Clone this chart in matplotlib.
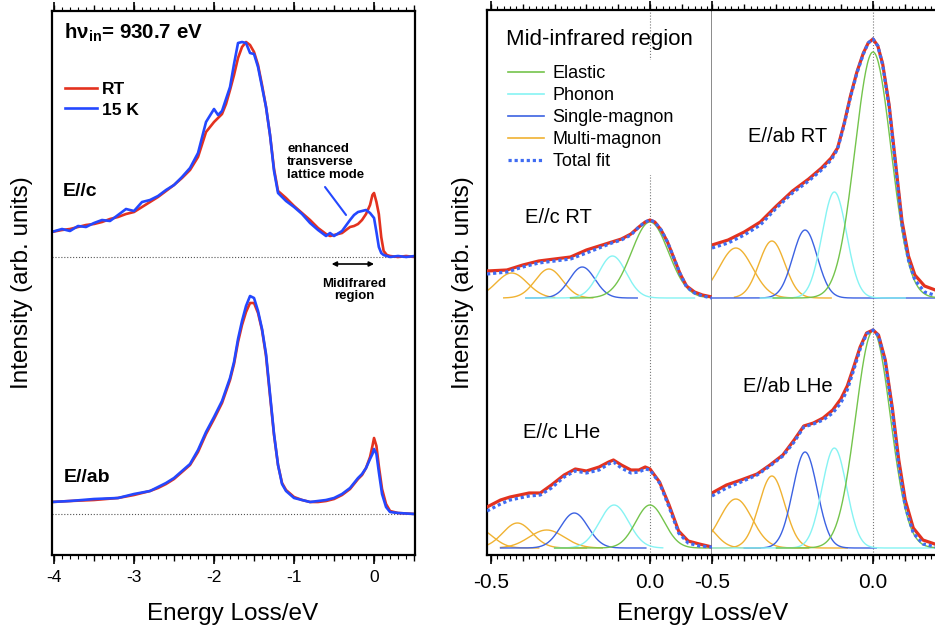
import numpy as np
import matplotlib
matplotlib.use('Agg')
import matplotlib.pyplot as plt
from matplotlib.ticker import MultipleLocator
from matplotlib.lines import Line2D

plt.rcParams['font.family'] = ['Liberation Sans', 'DejaVu Sans']
plt.rcParams['axes.unicode_minus'] = False
plt.rcParams['mathtext.fontset'] = 'custom'
plt.rcParams['mathtext.rm'] = 'Liberation Sans'
plt.rcParams['mathtext.bf'] = 'Liberation Sans:bold'
plt.rcParams['mathtext.it'] = 'Liberation Sans:italic'

# ---------------- left panel: full RIXS spectra (intensity above baseline) ----------------
ec_energy = [-4.03, -3.9, -3.8, -3.7, -3.6, -3.5, -3.4, -3.3, -3.2, -3.1, -3.0, -2.9, -2.8, -2.7,
             -2.6, -2.5, -2.4, -2.3, -2.2, -2.1, -2.0, -1.95, -1.9, -1.85, -1.8, -1.75, -1.7, -1.65,
             -1.6, -1.55, -1.5, -1.45, -1.4, -1.35, -1.3, -1.25, -1.2, -1.1, -1.0, -0.9, -0.8, -0.7,
             -0.6, -0.55, -0.5, -0.4, -0.3, -0.25, -0.2, -0.15, -0.1, -0.05, -0.02, 0.0, 0.03, 0.06,
             0.09, 0.12, 0.16, 0.2, 0.3, 0.4, 0.51]
ec_rt = [25, 27, 28, 30, 32, 33, 35, 38, 40, 43, 45, 50, 55, 60, 66, 72, 79, 87, 100, 125,
         135, 139, 143, 153, 167, 182, 199, 210, 215, 212, 205, 192, 172, 150, 122, 88, 66, 59, 51, 44,
         37, 29, 23, 21, 22, 24, 30, 31, 33, 37, 43, 52, 62, 64, 55, 43, 20, 6, 2, 1,
         0, 1, 0]
ec_15k = [25, 28, 26, 31, 30, 34, 37, 36, 42, 48, 46, 55, 57, 61, 67, 72, 80, 89, 104, 135,
          148, 142, 146, 158, 170, 193, 214, 215, 214, 204, 203, 190, 170, 150, 122, 86, 64, 56, 50, 43,
          34, 27, 21, 24, 21, 26, 37, 42, 45, 46, 47, 44, 41, 39, 25, 10, 4, 2, 1, 0,
          1, 0, 1]

eab_energy = [-4.03, -3.8, -3.5, -3.2, -3.0, -2.8, -2.7, -2.6, -2.5, -2.4, -2.3, -2.2, -2.1, -2.0,
              -1.9, -1.8, -1.75, -1.7, -1.65, -1.6, -1.55, -1.5, -1.45, -1.4, -1.35, -1.3, -1.25,
              -1.2, -1.15, -1.1, -1.0, -0.9, -0.8, -0.7, -0.6, -0.5, -0.4, -0.3, -0.2, -0.15, -0.1,
              -0.05, -0.02, 0.0, 0.03, 0.06, 0.1, 0.15, 0.2, 0.3, 0.51]
eab_rt = [12, 13, 14, 16, 19, 23, 26, 30, 35, 42, 49, 62, 80, 95, 111, 134, 150, 172, 189, 202,
          211, 211, 201, 184, 158, 118, 79, 49, 31, 24, 17, 14, 12, 12, 13, 15, 19, 25, 35, 39,
          46, 57, 68, 76, 68, 48, 25, 10, 3, 1, 0]
eab_15k = [12, 13, 15, 16, 20, 23, 27, 31, 36, 43, 50, 64, 82, 97, 113, 136, 152, 175, 193, 208,
           218, 216, 203, 185, 160, 120, 80, 49, 30, 23, 16, 14, 12, 13, 14, 16, 20, 26, 36, 40,
           46, 55, 60, 65, 60, 42, 20, 7, 2, 1, 0]
left_offsets = [298, 41]   # E//c, E//ab baselines

# ---------------- right panel: mid-infrared fits ----------------
# E//c RT
ecrt_e = [-0.5125, -0.45, -0.40, -0.35, -0.30, -0.25, -0.20, -0.16, -0.12, -0.09, -0.06, -0.035,
          -0.015, 0.0, 0.015, 0.035, 0.055, 0.075, 0.095, 0.115, 0.14, 0.165, 0.195]
ecrt_data = [27, 28, 33, 37, 39, 41, 48, 52, 56, 59, 64, 71, 76, 78, 76, 68, 56, 40, 24, 12, 6, 3, 1]
ecrt_fit = [24, 26, 31, 35, 37, 39, 45, 50, 55, 58, 63, 71, 76, 78, 76, 68, 56, 40, 24, 11, 5, 2, 0]
ecrt_kind = ['multi', 'multi', 'single', 'phonon', 'elastic']
ecrt_center = [-0.435, -0.318, -0.213, -0.118, 0.0]
ecrt_height = [25, 29, 31, 42, 76]
ecrt_width = [0.049, 0.043, 0.040, 0.043, 0.058]
ecrt_lo = [-0.56, -0.46, -0.39, -0.39, -0.25]
ecrt_hi = [-0.30, -0.18, -0.04, 0.14, 0.20]

# E//c LHe
eclhe_e = [-0.5125, -0.47, -0.44, -0.41, -0.38, -0.345, -0.31, -0.27, -0.235, -0.20, -0.16, -0.13,
           -0.115, -0.09, -0.06, -0.035, -0.015, 0.0, 0.03, 0.06, 0.09, 0.12, 0.155, 0.195]
eclhe_data = [41, 48, 51, 53, 55, 55, 63, 73, 79, 77, 81, 86, 88, 83, 78, 78, 81, 79, 66, 43, 17, 7, 4, 1]
eclhe_fit = [37, 44, 48, 50, 52, 53, 60, 71, 77, 75, 78, 84, 86, 80, 75, 76, 79, 78, 65, 41, 15, 5, 2, 1]
eclhe_kind = ['multi', 'multi', 'multi', 'single', 'phonon', 'elastic']
eclhe_center = [-0.54, -0.417, -0.325, -0.238, -0.113, 0.0]
eclhe_height = [19, 25, 18, 35, 43, 43]
eclhe_width = [0.045, 0.046, 0.055, 0.043, 0.046, 0.045]
eclhe_lo = [-0.60, -0.60, -0.47, -0.47, -0.30, -0.30]
eclhe_hi = [-0.35, -0.20, -0.15, -0.013, 0.04, 0.195]

# E//ab RT
eabrt_e = [-0.5, -0.45, -0.40, -0.35, -0.30, -0.25, -0.20, -0.16, -0.13, -0.11, -0.09, -0.07, -0.05,
           -0.03, -0.015, 0.0, 0.015, 0.03, 0.05, 0.07, 0.09, 0.11, 0.13, 0.16, 0.21]
eabrt_data = [53, 58, 66, 76, 92, 107, 119, 130, 140, 150, 174, 202, 226, 245, 255, 259, 252, 234,
              193, 135, 77, 42, 23, 12, 6]
eabrt_fit = [50, 55, 63, 73, 90, 105, 117, 128, 138, 149, 173, 201, 225, 244, 255, 259, 252, 233,
             191, 132, 73, 38, 18, 6, 1]
eabrt_kind = ['multi', 'multi', 'single', 'phonon', 'elastic']
eabrt_center = [-0.426, -0.314, -0.211, -0.120, 0.0]
eabrt_height = [50, 57, 68, 106, 246]
eabrt_width = [0.052, 0.040, 0.038, 0.038, 0.056]
eabrt_lo = [-0.60, -0.43, -0.50, -0.35, -0.31]
eabrt_hi = [-0.25, -0.13, 0.21, 0.10, 0.21]

# E//ab LHe
eablhe_e = [-0.5, -0.455, -0.41, -0.36, -0.32, -0.28, -0.245, -0.215, -0.185, -0.155, -0.125, -0.10,
            -0.08, -0.06, -0.04, -0.02, 0.0, 0.017, 0.038, 0.06, 0.08, 0.10, 0.125, 0.155, 0.21]
eablhe_data = [55, 63, 68, 74, 83, 93, 108, 122, 125, 130, 138, 149, 162, 181, 201, 215, 218, 213,
               188, 140, 88, 48, 20, 8, 2]
eablhe_fit = [52, 60, 66, 73, 82, 92, 106, 121, 124, 128, 135, 145, 158, 178, 199, 214, 218, 212,
              186, 136, 82, 42, 15, 4, 0]
eablhe_kind = ['multi', 'multi', 'multi', 'single', 'phonon', 'elastic']
eablhe_center = [-0.53, -0.426, -0.314, -0.211, -0.120, 0.0]
eablhe_height = [24, 49, 72, 96, 100, 217]
eablhe_width = [0.040, 0.050, 0.040, 0.038, 0.038, 0.054]
eablhe_lo = [-0.60, -0.60, -0.50, -0.40, -0.50, -0.30]
eablhe_hi = [-0.35, -0.20, -0.08, 0.01, 0.21, 0.21]

right_offsets = [257, 7]   # RT, LHe baselines

comp_colors = {'elastic': '#74c44c', 'phonon': '#86f3f3', 'single': '#3c62e2', 'multi': '#f0b232'}
comp_names = {'elastic': 'Elastic', 'phonon': 'Phonon', 'single': 'Single-magnon', 'multi': 'Multi-magnon'}
red = '#e3321f'
blue = '#2448ff'
fitblue = '#3f6cf2'

W, H = 935, 631
fig = plt.figure(figsize=(9.35, 6.31), dpi=100)


def fx(px):
    return px / W


def fy(py):
    return 1 - py / H


def style_x(ax, big, mid, small, labels, lsize, lpad):
    ax.set_yticks([])
    ax.xaxis.set_major_locator(MultipleLocator(mid))
    ax.xaxis.set_minor_locator(MultipleLocator(small))
    ax.tick_params(axis='x', which='both', direction='out', bottom=True, top=True, labelbottom=False)
    ax.tick_params(axis='x', which='major', length=4.3, width=1)
    ax.tick_params(axis='x', which='minor', length=2.9, width=0.8)
    for side in ('bottom', 'top'):
        sec = ax.secondary_xaxis(side)
        sec.set_xticks(big)
        sec.tick_params(direction='out', length=6.5, width=1.2, labelsize=lsize, pad=lpad)
        sec.spines[side].set_visible(False)
        sec.set_xticklabels(labels if side == 'bottom' else [])
    for s in ax.spines.values():
        s.set_linewidth(1.6)


def gauss(e, c, h, w):
    return h * np.exp(-0.5 * ((e - c) / w) ** 2)


# ---------- left panel ----------
ax1 = fig.add_axes([fx(52), fy(555), (415 - 52) / W, (555 - 11) / H])
ax1.set_xlim(-4.025, 0.512)
ax1.set_ylim(0, 544)
style_x(ax1, [-4, -3, -2, -1, 0], 0.5, 0.1, ['-4', '-3', '-2', '-1', '0'], 12.5, 4.5)

for off in left_offsets:
    ax1.axhline(off, color='#555555', ls=':', lw=0.8, zorder=1)
ax1.plot(ec_energy, np.array(ec_rt) + left_offsets[0], color=red, lw=1.9, label='RT')
ax1.plot(ec_energy, np.array(ec_15k) + left_offsets[0], color=blue, lw=1.9, label='15 K')
ax1.plot(eab_energy, np.array(eab_rt) + left_offsets[1], color=red, lw=1.9)
ax1.plot(eab_energy, np.array(eab_15k) + left_offsets[1], color=blue, lw=1.9)

ax1.legend(loc='upper left', bbox_to_anchor=(fx(65), fy(82)), bbox_transform=fig.transFigure,
           frameon=False, prop={'weight': 'bold', 'size': 12.5}, handlelength=1.85,
           handletextpad=0.3, labelspacing=0.3, borderpad=0, borderaxespad=0)

ax1.annotate('', xy=(-0.53, 291), xytext=(0.0, 291),
             arrowprops=dict(arrowstyle='<|-|>', lw=1.2, color='black', mutation_scale=7,
                             shrinkA=0, shrinkB=0))
ax1.annotate('', xy=(-0.35, 340), xytext=(-0.6125, 368),
             arrowprops=dict(arrowstyle='-', lw=1.5, color=blue, shrinkA=0, shrinkB=0))

fig.text(fx(64), fy(39), r'h$\mathbf{ν_{in}}$= 930.7 eV', fontsize=14.8, weight='bold', va='baseline')
fig.text(fx(63), fy(192), 'E//c', fontsize=14, weight='bold', va='center')
fig.text(fx(64), fy(477), 'E//ab', fontsize=14, weight='bold', va='center')
fig.text(fx(287), fy(162), 'enhanced\ntransverse\nlattice mode', fontsize=9.5, weight='bold',
         va='center', linespacing=1.1)
fig.text(fx(354), fy(290), 'Midifrared\nregion', fontsize=9.5, weight='bold', va='center',
         ha='center', linespacing=1.1)

# ---------- right panel ----------
axA = fig.add_axes([fx(487), fy(555), 225 / W, 545 / H])
axB = fig.add_axes([fx(712), fy(555), 228 / W, 545 / H])
axA.set_xlim(-0.5126, 0.195)
axB.set_xlim(-0.5, 0.208)
for ax in (axA, axB):
    ax.set_ylim(0, 545)
    style_x(ax, [-0.5, 0.0], 0.1, 0.02, ['-0.5', '0.0'], 15, 6.5)
    ax.axvline(0, color='#777777', ls=':', lw=0.8, zorder=1)
axA.spines['right'].set_color('#777777')
axA.spines['right'].set_linewidth(1.2)
axB.spines['left'].set_visible(False)
axB.spines['right'].set_visible(False)

panels = [
    (axA, right_offsets[0], ecrt_e, ecrt_data, ecrt_fit, ecrt_kind, ecrt_center, ecrt_height,
     ecrt_width, ecrt_lo, ecrt_hi),
    (axA, right_offsets[1], eclhe_e, eclhe_data, eclhe_fit, eclhe_kind, eclhe_center, eclhe_height,
     eclhe_width, eclhe_lo, eclhe_hi),
    (axB, right_offsets[0], eabrt_e, eabrt_data, eabrt_fit, eabrt_kind, eabrt_center, eabrt_height,
     eabrt_width, eabrt_lo, eabrt_hi),
    (axB, right_offsets[1], eablhe_e, eablhe_data, eablhe_fit, eablhe_kind, eablhe_center,
     eablhe_height, eablhe_width, eablhe_lo, eablhe_hi),
]
for ax, off, e, data, fit, kind, cen, hgt, wid, lo, hi in panels:
    for k, c, h, w, a, b in zip(kind, cen, hgt, wid, lo, hi):
        xx = np.linspace(a, b, 200)
        ax.plot(xx, gauss(xx, c, h, w) + off, color=comp_colors[k], lw=1.0, zorder=2)
    ax.plot(e, np.array(data) + off, color=red, lw=2.3, zorder=3)
    ax.plot(e, np.array(fit) + off, color=fitblue, lw=2.3, ls=(0, (1, 0.9)), zorder=4)

handles = [Line2D([], [], color=comp_colors[k], lw=1.2, label=comp_names[k])
           for k in ('elastic', 'phonon', 'single', 'multi')]
handles.append(Line2D([], [], color=fitblue, lw=2.3, ls=(0, (1, 0.9)), label='Total fit'))
leg = axA.legend(handles=handles, loc='upper left', bbox_to_anchor=(fx(503), fy(60)),
                 bbox_transform=fig.transFigure, fontsize=13, handlelength=1.95,
                 handletextpad=0.5, labelspacing=0.27, borderpad=0.3, borderaxespad=0,
                 frameon=True, fancybox=False, framealpha=1)
leg.get_frame().set_facecolor('white')
leg.get_frame().set_edgecolor('none')
leg.set_zorder(6)

fig.text(fx(506), fy(45.5), 'Mid-infrared region', fontsize=16, va='baseline')
fig.text(fx(525), fy(218), 'E//c RT', fontsize=14.5, va='center')
fig.text(fx(748), fy(136), 'E//ab RT', fontsize=14.5, va='center')
fig.text(fx(523), fy(433), 'E//c LHe', fontsize=14.5, va='center')
fig.text(fx(743), fy(387), 'E//ab LHe', fontsize=14.5, va='center')

# axis titles
fig.text(fx(233), fy(620), 'Energy Loss/eV', fontsize=17.5, ha='center', va='baseline')
fig.text(fx(703), fy(620), 'Energy Loss/eV', fontsize=17.5, ha='center', va='baseline')
fig.text(fx(22), fy(283), 'Intensity (arb. units)', fontsize=17.5, rotation=90, ha='center', va='center')
fig.text(fx(463), fy(283), 'Intensity (arb. units)', fontsize=17.5, rotation=90, ha='center', va='center')

fig.savefig('out.png', dpi=100)
